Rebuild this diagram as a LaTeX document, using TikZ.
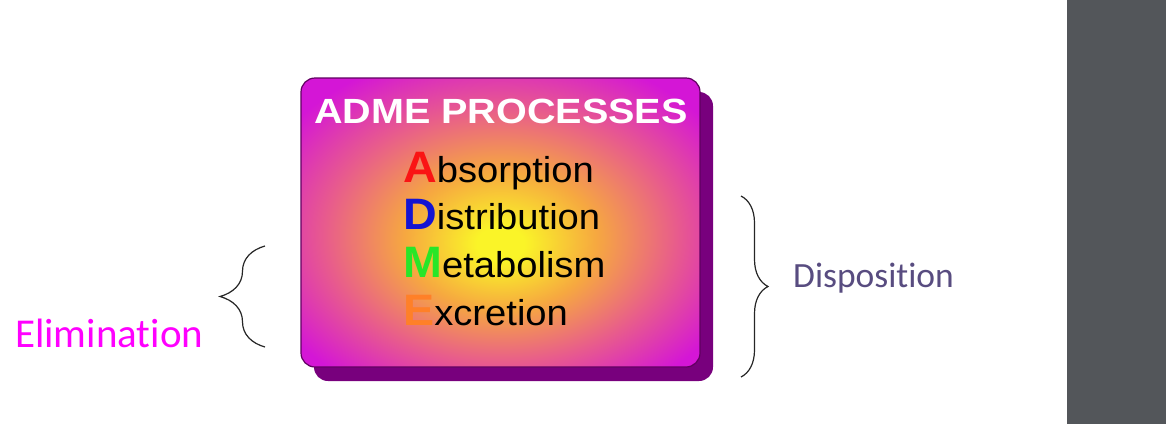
\documentclass[tikz,border=0pt]{standalone}
\usepackage{fontspec}
\usepackage{xcolor}
\usepackage{tikz}
\usetikzlibrary{
  calc,decorations.pathreplacing,shadows,positioning
}
\newfontfamily\admefont{Liberation Sans}
\newfontfamily\slidefont[Ligatures=NoCommon]{Carlito}
\definecolor{glowyellow}{RGB}{250,244,40}
\definecolor{gloworange}{RGB}{246,168,64}
\definecolor{glowpink}{RGB}{232,92,140}
\definecolor{glowmagenta}{RGB}{212,22,214}
\definecolor{boxedge}{RGB}{96,0,96}
\definecolor{boxshadow}{RGB}{120,0,125}
\definecolor{admered}{RGB}{250,20,20}
\definecolor{admeblue}{RGB}{20,20,210}
\definecolor{admegreen}{RGB}{40,230,40}
\definecolor{admeorange}{RGB}{255,128,40}
\definecolor{elimcolor}{RGB}{255,0,255}
\definecolor{dispcolor}{RGB}{88,76,128}
\definecolor{barfill}{RGB}{83,86,90}
\pgfdeclareradialshading{admeglow}{\pgfpoint{0bp}{-4bp}}{%
  color(0bp)=(glowyellow); color(3bp)=(glowyellow);
  color(12bp)=(gloworange); color(22bp)=(glowpink);
  color(32bp)=(glowmagenta); color(50bp)=(glowmagenta)}
\newcommand\admeinitial[2]{{\fontsize{44}{44}\selectfont\bfseries\color{#1}#2}}
\tikzset{
  admebox/.style={draw=boxedge,line width=1.2pt,rounded corners=14pt,
    shading=admeglow,minimum width=399pt,minimum height=289pt,inner sep=0pt,
    drop shadow={shadow xshift=13pt,shadow yshift=-14pt,fill=boxshadow,opacity=1}},
  title/.style={anchor=base,inner sep=0pt,text=white,
    font=\admefont\bfseries\fontsize{35}{35}\selectfont},
  item/.style={anchor=base west,inner sep=0pt,
    font=\admefont\fontsize{36}{36}\selectfont},
  bracket/.style={decorate,line width=1.2pt,draw=black!85},
  label/.style={anchor=base west,inner sep=0pt,font=\slidefont}
}

\begin{document}
\begin{tikzpicture}[x=1pt,y=-1pt]
  \useasboundingbox (0,0) rectangle (1166,424);
  \fill[barfill] (1067,0) rectangle (1166,424);
  \node[admebox] (box) at (500.5,222.5) {};
  \node[title] (heading) at (501,123) {\scalebox{1.13}[1]{ADME PROCESSES}};
  \foreach \lead/\col/\rest [count=\i] in
    {A/admered/bsorption,D/admeblue/istribution,M/admegreen/etabolism,E/admeorange/xcretion}
    \node[item] (line\i) at (403,{182+47.7*(\i-1)})
      {\scalebox{1.06}[1]{\admeinitial{\col}{\lead}\rest}};
  \coordinate (elimlow) at (265,347);
  \coordinate (elimhigh) at (265,246);
  \coordinate (disphigh) at (741,196);
  \coordinate (displow) at (741,377);
  \draw[bracket,decoration={brace,amplitude=45pt}] (elimlow) -- (elimhigh);
  \draw[bracket,decoration={brace,amplitude=27pt}] (disphigh) -- (displow);
  \node[label,text=elimcolor,font=\slidefont\fontsize{41}{41}\selectfont]
    (elimination) at (15,347.5) {Elimination};
  \node[label,text=dispcolor,font=\slidefont\fontsize{35.5}{35.5}\selectfont]
    (disposition) at (793,287.3) {Disposition};
\end{tikzpicture}
\end{document}
